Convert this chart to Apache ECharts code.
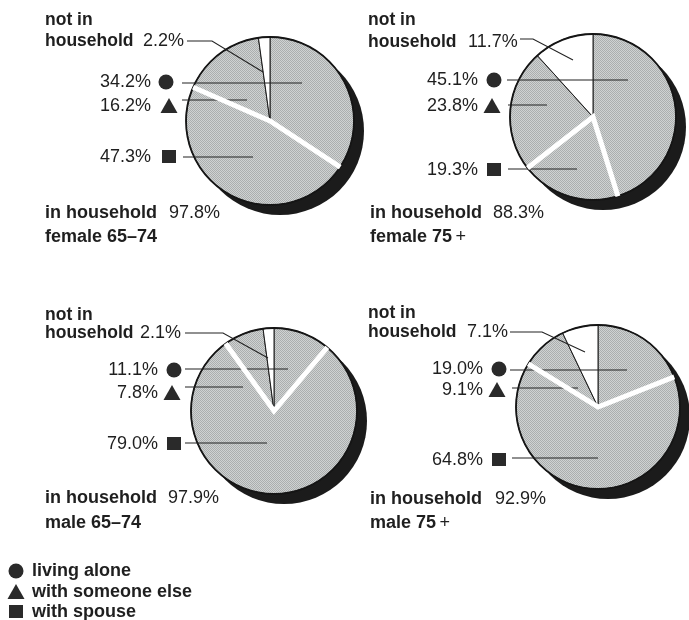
<!DOCTYPE html>
<html><head><meta charset="utf-8">
<script src="https://cdn.jsdelivr.net/npm/echarts@6/dist/echarts.min.js"></script>
<style>html,body{margin:0;padding:0;background:#fff}#c{width:689px;height:620px}</style>
</head><body><div id="c"></div>
<script>
// ---- data ----
const panelTitles = ['female 65–74', 'female 75', 'male 65–74', 'male 75'];
const panelTitleSuffix = ['', '+', '', '+'];
const livingAlone = [34.2, 45.1, 11.1, 19.0];
const withSpouse = [47.3, 19.3, 79.0, 64.8];
const withSomeoneElse = [16.2, 23.8, 7.8, 9.1];
const notInHousehold = [2.2, 11.7, 2.1, 7.1];
const inHousehold = [97.8, 88.3, 97.9, 92.9];
const legendLabels = ['living alone', 'with someone else', 'with spouse'];

// ---- layout (positions only) ----
const layout = [
  {cx:270, cy:121, r:84, tx:45, ny:[20,41], nvx:143, nLine:[[187,41],[212,41],[263,72]],
   mk:[[166,82],[169,106],[169,157]], tr:151, lines:[[182,302,83],[182,247,100],[183,253,157]],
   iy:213, ivx:169, ty:237},
  {cx:593, cy:117, r:83, tx:368, ny:[20,42], nvx:468, nLine:[[520,39],[533,39],[573,60]],
   mk:[[494,80],[492,106],[494,170]], tr:478, lines:[[507,628,80],[508,547,105],[508,577,169]],
   iy:213, ivx:493, ty:237},
  {cx:274, cy:411, r:83, tx:45, ny:[315,333], nvx:140, nLine:[[185,333],[223,333],[268,358]],
   mk:[[174,370],[172,393],[174,444]], tr:158, lines:[[185,288,369],[185,243,387],[185,267,443]],
   iy:498, ivx:168, ty:523},
  {cx:598, cy:407, r:82, tx:368, ny:[313,332], nvx:467, nLine:[[510,332],[542,332],[585,352]],
   mk:[[499,369],[497,390],[499,460]], tr:483, lines:[[510,627,370],[512,578,388],[512,598,458]],
   iy:499, ivx:495, ty:523}
];
const legendPos = {x:16, ys:[571,592,612], tx:32};

const INK = '#1f1f1f';
const BOLD = 'bold 18px "Liberation Sans", Arial, sans-serif';
const BOLD_TOP = 'bold 17.5px "Liberation Sans", Arial, sans-serif';
const REG = '18px "Liberation Sans", Arial, sans-serif';

// stipple pattern
const pc = document.createElement('canvas');
pc.width = 2; pc.height = 2;
const pctx = pc.getContext('2d');
pctx.fillStyle = '#cfd2d2'; pctx.fillRect(0,0,2,2);
pctx.fillStyle = '#abaeae'; pctx.fillRect(0,0,1,1); pctx.fillRect(1,1,1,1);
const stipple = {image: pc, repeat: 'repeat'};

function markerShape(kind, x, y) {
  if (kind === 0) return {type:'circle', shape:{cx:x, cy:y, r:7.5}, style:{fill:'#2a2a2a'}, z:20};
  if (kind === 1) return {type:'polygon', shape:{points:[[x,y-8],[x+8.5,y+7],[x-8.5,y+7]]}, style:{fill:'#2a2a2a'}, z:20};
  return {type:'rect', shape:{x:x-7, y:y-7, width:14, height:13}, style:{fill:'#2a2a2a'}, z:20};
}
function txt(text, x, y, font, align) {
  return {type:'text', x:x, y:y, z:20, style:{text:text, font:font, fill:INK,
    align:align||'left', textAlign:align||'left', verticalAlign:'middle', textVerticalAlign:'middle'}};
}

const series = [];
const graphics = [];
layout.forEach((L, i) => {
  // shadow
  series.push({type:'pie', center:[L.cx+10, L.cy+10], radius:L.r, silent:true, animation:false, z:1,
    label:{show:false}, labelLine:{show:false},
    data:[{value:1, itemStyle:{color:'#1b1b1b'}}]});
  // main pie
  series.push({type:'pie', center:[L.cx, L.cy], radius:L.r, startAngle:90, clockwise:true,
    silent:true, animation:false, z:2, label:{show:false}, labelLine:{show:false},
    itemStyle:{borderColor:'#1a1a1a', borderWidth:1},
    data:[
      {name:'living alone', value:livingAlone[i], itemStyle:{color:stipple}},
      {name:'with spouse', value:withSpouse[i], itemStyle:{color:stipple}},
      {name:'with someone else', value:withSomeoneElse[i], itemStyle:{color:stipple}},
      {name:'not in household', value:notInHousehold[i], itemStyle:{color:'#ffffff'}}
    ]});
  // outline
  series.push({type:'pie', center:[L.cx, L.cy], radius:L.r, silent:true, animation:false, z:3,
    label:{show:false}, labelLine:{show:false},
    data:[{value:1, itemStyle:{color:'rgba(0,0,0,0)', borderColor:'#151515', borderWidth:1.8}}]});

  // white separators around spouse slice (angles from data)
  const tot = livingAlone[i] + withSpouse[i] + withSomeoneElse[i] + notInHousehold[i];
  const a1 = livingAlone[i] / tot * 2 * Math.PI;
  const a2 = (livingAlone[i] + withSpouse[i]) / tot * 2 * Math.PI;
  const pt = a => [L.cx + L.r * Math.sin(a), L.cy - L.r * Math.cos(a)];
  graphics.push({type:'polyline', z:30, shape:{points:[pt(a1), [L.cx, L.cy], pt(a2)]},
    style:{stroke:'#ffffff', lineWidth:5, lineJoin:'miter', fill:null}});

  // "not in household"
  graphics.push(txt('not in', L.tx, L.ny[0], BOLD_TOP));
  graphics.push(txt('household', L.tx, L.ny[1], BOLD_TOP));
  graphics.push(txt(notInHousehold[i].toFixed(1) + '%', L.nvx, L.ny[1], REG));
  graphics.push({type:'polyline', z:25, shape:{points:L.nLine}, style:{stroke:'#222', lineWidth:1.1, fill:null}});

  // category labels
  const vals = [livingAlone[i], withSomeoneElse[i], withSpouse[i]];
  vals.forEach((v, k) => {
    const m = L.mk[k];
    graphics.push(txt(v.toFixed(1) + '%', L.tr, m[1], REG, 'right'));
    graphics.push(markerShape(k, m[0], m[1]));
    const ln = L.lines[k];
    graphics.push({type:'line', z:25, shape:{x1:ln[0], y1:ln[2], x2:ln[1], y2:ln[2]},
      style:{stroke:'#222', lineWidth:1.1}});
  });

  // in household
  graphics.push(txt('in household', L.tx + (i % 2 ? 2 : 0), L.iy, BOLD));
  graphics.push(txt(inHousehold[i].toFixed(1) + '%', L.ivx, L.iy, REG));
  // title
  graphics.push({type:'text', x:L.tx + (i % 2 ? 2 : 0), y:L.ty, z:20, style:{
    text: '{b|' + panelTitles[i] + '}' + (panelTitleSuffix[i] ? ' {r|' + panelTitleSuffix[i] + '}' : ''),
    verticalAlign:'middle', textVerticalAlign:'middle', fill:INK,
    rich:{b:{font:BOLD, fill:INK, fontWeight:'bold', fontSize:18, fontFamily:'Liberation Sans'},
          r:{font:REG, fill:INK, fontSize:18, fontFamily:'Liberation Sans'}}}});
});

// legend
legendLabels.forEach((lab, k) => {
  graphics.push(markerShape(k, legendPos.x, legendPos.ys[k]));
  graphics.push(txt(lab, legendPos.tx, legendPos.ys[k], BOLD));
});

const chart = echarts.init(document.getElementById('c'), null, {renderer:'canvas'});
chart.setOption({
  animation:false,
  backgroundColor:'#ffffff',
  series: series,
  graphic: {elements: graphics}
});
</script>
</body></html>
